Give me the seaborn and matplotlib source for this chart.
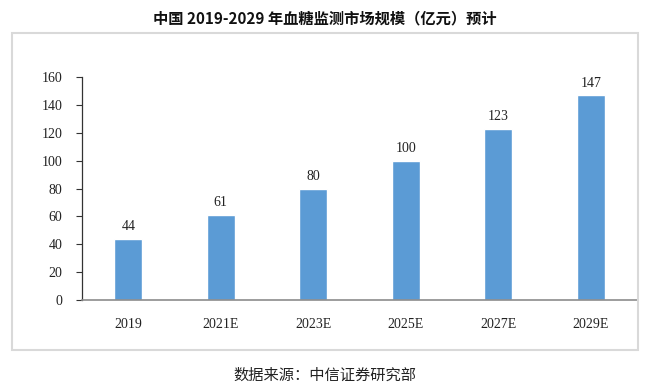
import matplotlib
matplotlib.use("Agg")
import matplotlib.pyplot as plt
import seaborn as sns
import pandas as pd
from matplotlib.patches import Rectangle

# data
years = ["2019", "2021E", "2023E", "2025E", "2027E", "2029E"]
market_size = [44, 61, 80, 100, 123, 147]
y_ticks = [0, 20, 40, 60, 80, 100, 120, 140, 160]

df = pd.DataFrame({"year": years, "size": market_size})

sns.set_theme(style="white")
plt.rcParams["font.family"] = ["Liberation Serif", "Noto Sans CJK SC", "DejaVu Sans"]

fig = plt.figure(figsize=(6.5, 3.92), dpi=100)
W, H = 650, 392
ax = fig.add_axes([82 / W, 1 - 300 / H, (637 - 82) / W, (300 - 77) / H])

sns.barplot(data=df, x="year", y="size", color="#5B9BD5", saturation=1,
            width=0.3, ax=ax)

for i, v in enumerate(market_size):
    ax.text(i, v + 4, str(v), ha="center", va="bottom", fontsize=10, color="#222222")

ax.set_ylim(0, 160)
ax.set_xlim(-0.5, len(years) - 0.5)
ax.set_yticks(y_ticks)
ax.set_xlabel("")
ax.set_ylabel("")
ax.tick_params(axis="y", which="both", left=True, length=4, width=0.8,
               color="#333333", labelsize=10, pad=10)
ax.tick_params(axis="x", bottom=False, labelsize=10, pad=7)
for lbl in ax.get_xticklabels() + ax.get_yticklabels():
    lbl.set_color("#222222")

sns.despine(ax=ax, top=True, right=True)
ax.spines["left"].set_color("#333333")
ax.spines["left"].set_linewidth(0.9)
ax.spines["bottom"].set_color("#8C8C8C")
ax.spines["bottom"].set_linewidth(1.2)

# frame around the chart
fig.patches.append(Rectangle((12 / W, 1 - 350 / H), (638 - 12) / W, (350 - 33) / H,
                             transform=fig.transFigure, fill=False,
                             edgecolor="#D9D9D9", linewidth=1.5))

fig.text(0.5, 1 - 18 / H, "中国 2019-2029 年血糖监测市场规模（亿元）预计",
         ha="center", va="center", fontsize=11, fontweight="bold",
         family=["Noto Sans CJK SC", "DejaVu Sans"], color="#111111")
fig.text(0.5, 1 - 375 / H, "数据来源：中信证券研究部",
         ha="center", va="center", fontsize=11,
         family=["Noto Sans CJK SC", "DejaVu Sans"], color="#222222")

fig.savefig("out.png", dpi=100)
